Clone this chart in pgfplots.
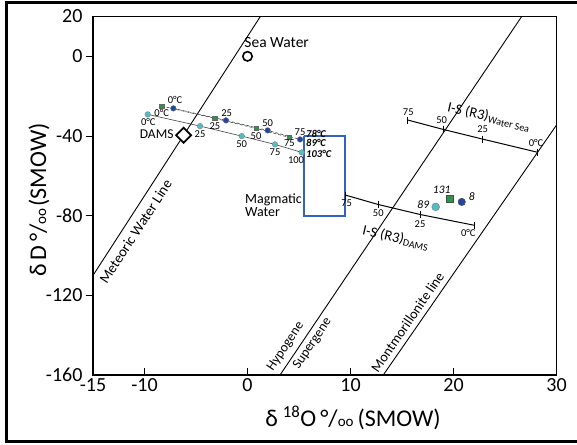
\documentclass[border=0pt]{standalone}
\usepackage{fontspec}
\setmainfont{Carlito}
\usepackage{pgfplots}
\pgfplotsset{compat=1.18}
\definecolor{cgreen}{RGB}{40,150,70}
\definecolor{cblue}{RGB}{35,70,160}
\definecolor{ccyan}{RGB}{80,190,200}
\definecolor{boxblue}{RGB}{50,100,190}
\newcommand{\fs}[1]{\fontsize{#1}{#1}\selectfont}
\newcommand{\permil}{°/{\fs{15}oo}}
\begin{document}
\begin{tikzpicture}
\useasboundingbox (0pt,0pt) rectangle (577pt,-444pt);
\draw[line width=3pt] (6.5pt,-2.8pt) rectangle (600pt,-441.7pt);
\begin{axis}[
  at={(93pt,-375pt)}, anchor=south west,
  scale only axis, width=463.5pt, height=358.5pt,
  xmin=-15, xmax=30, ymin=-160, ymax=20,
  xtick={-10,0,10,20}, ytick={-120,-80,-40,0},
  extra x ticks={-15,30}, extra y ticks={-160,20},
  extra x tick style={tick style={draw=none}},
  extra y tick style={tick style={draw=none}},
  xtick pos=bottom, ytick pos=left,
  xtick align=inside, ytick align=outside,
  major tick length=7pt,
  tick style={black, line width=1pt},
  axis line style={line width=1.2pt},
  ticklabel style={font=\fs{20}},
  /pgf/number format/assume math mode=true,
  xlabel={δ\hspace{5pt}\textsuperscript{18}O\hspace{4pt}\permil\hspace{4pt}(SMOW)},
  ylabel={δ\hspace{4pt}D\hspace{4pt}\permil\hspace{2pt}(SMOW)},
  xlabel style={at={(axis description cs:0.561,-0.12)}, anchor=center, font=\fs{24}},
  ylabel style={at={(axis description cs:-0.1165,0.488)}, anchor=center, font=\fs{24}},
  clip mode=individual,
]
% reference lines
\addplot[black, line width=0.9pt] coordinates {(-15,-110) (1.25,20)};
\addplot[black, line width=0.9pt] coordinates {(3.16,-160) (26.62,20)};
\addplot[black, line width=0.9pt] coordinates {(13.18,-160) (30,-34.5)};
% magmatic water box
\addplot[boxblue, line width=1.8pt, line join=miter] coordinates {(5.5,-40) (9.5,-40) (9.5,-80) (5.5,-80) (5.5,-40)};
% I-S (R3) scales
\addplot[black, line width=1pt, mark=|, mark size=3.5pt, mark options={solid}] coordinates {(9.53,-69.7) (12.70,-74.4) (16.75,-79.4) (21.99,-84.8)};
\addplot[black, line width=1pt, mark=|, mark size=3.5pt, mark options={solid}] coordinates {(15.58,-32.0) (19.0,-36.7) (22.86,-41.6) (28.11,-48.1)};
% fluid curves
\addplot[black!75, densely dashed, line width=0.6pt] coordinates {(-8.33,-24.97) (-3.16,-31.16) (0.83,-36.18) (4.06,-40.70)};
\addplot[black!75, densely dashed, line width=0.6pt] coordinates {(-7.20,-26.13) (-2.09,-32.16) (1.96,-37.19) (5.10,-41.71)};
\addplot[black!75, line width=0.6pt] coordinates {(-9.69,-29.15) (-4.61,-35.03) (-0.56,-40.05) (2.67,-44.22) (5.26,-48.24)};
\addplot[only marks, mark=square*, mark size=2.3pt, mark options={fill=cgreen, draw=black!60, line width=0.4pt}] coordinates {(-8.33,-24.97) (-3.16,-31.16) (0.83,-36.18) (4.06,-40.70)};
\addplot[only marks, mark=*, mark size=2.8pt, mark options={fill=cblue, draw=black!60, line width=0.4pt}] coordinates {(-7.20,-26.13) (-2.09,-32.16) (1.96,-37.19) (5.10,-41.71)};
\addplot[only marks, mark=*, mark size=2.8pt, mark options={fill=ccyan, draw=black!50, line width=0.4pt}] coordinates {(-9.69,-29.15) (-4.61,-35.03) (-0.56,-40.05) (2.67,-44.22) (5.26,-48.24)};
% samples
\addplot[only marks, mark=*, mark size=3.9pt, mark options={fill=ccyan, draw=black!50, line width=0.5pt}] coordinates {(18.27,-75.6)};
\addplot[only marks, mark=square*, mark size=3.4pt, mark options={fill=cgreen, draw=black!70, line width=0.5pt}] coordinates {(19.66,-71.7)};
\addplot[only marks, mark=*, mark size=3.7pt, mark options={fill=cblue, draw=black!70, line width=0.5pt}] coordinates {(20.80,-73.1)};
% sea water and DAMS
\addplot[only marks, mark=o, mark size=4.7pt, mark options={black, line width=1.6pt}] coordinates {(0,0)};
\addplot[only marks, mark=square*, mark size=5.3pt, mark options={draw=black, fill=white, line width=1.8pt, rotate=45}] coordinates {(-6.2,-39.6)};
% text
\node[font=\fs{15.5}] at (axis cs:2.83,6.9) {Sea Water};
\node[font=\fs{13.5}] at (axis cs:-8.82,-39.0) {DAMS};
\node[font=\fs{14}, align=left, anchor=west, inner sep=0pt] at (axis cs:-0.25,-74.9) {Magmatic\\[-1pt]Water};
\node[font=\fs{14.5}, rotate=57] at (axis cs:-10.87,-88) {Meteoric Water Line};
\node[font=\fs{13.5}, rotate=56] at (axis cs:3.72,-145.6) {Hypogene};
\node[font=\fs{13.5}, rotate=56] at (axis cs:6.31,-144.2) {Supergene};
\node[font=\fs{14}, rotate=55.5] at (axis cs:15.53,-133.4) {Montmorillonite line};
\node[font=\fs{14.5}, rotate=-13] at (axis cs:14.40,-91.1) {I-S (R3)\textsubscript{DAMS}};
\node[font=\fs{14.5}, rotate=-13] at (axis cs:23.45,-30.4) {I-S (R3)\textsubscript{Water Sea}};
% scale labels
\node[font=\fs{10.5}] at (axis cs:9.63,-73.9) {75};
\node[font=\fs{10.5}] at (axis cs:12.70,-78.9) {50};
\node[font=\fs{10.5}] at (axis cs:16.75,-84.4) {25};
\node[font=\fs{10.5}] at (axis cs:21.44,-88.9) {0°C};
\node[font=\fs{10.5}] at (axis cs:15.61,-27.8) {75};
\node[font=\fs{10.5}] at (axis cs:18.85,-32.0) {50};
\node[font=\fs{10.5}] at (axis cs:22.83,-36.7) {25};
\node[font=\fs{10.5}] at (axis cs:28.01,-43.7) {0°C};
% curve labels
\node[font=\fs{10.5}] at (axis cs:-7.04,-21.96) {0°C};
\node[font=\fs{10.5}] at (axis cs:-2.02,-28.6) {25};
\node[font=\fs{10.5}] at (axis cs:1.96,-33.7) {50};
\node[font=\fs{10.5}] at (axis cs:5.10,-38.2) {75};
\node[font=\fs{10.5}] at (axis cs:-8.33,-28.6) {0°C};
\node[font=\fs{10.5}] at (axis cs:-3.16,-34.9) {25};
\node[font=\fs{10.5}] at (axis cs:0.83,-39.9) {50};
\node[font=\fs{10.5}] at (axis cs:4.06,-43.7) {75};
\node[font=\fs{10.5}] at (axis cs:-9.63,-32.9) {0°C};
\node[font=\fs{10.5}] at (axis cs:-4.61,-39.2) {25};
\node[font=\fs{10.5}] at (axis cs:-0.56,-44.1) {50};
\node[font=\fs{10.5}] at (axis cs:2.67,-48.2) {75};
\node[font=\fs{10.5}] at (axis cs:4.71,-52.1) {100};
\node[font=\fs{10.5}\bfseries\itshape, anchor=west, inner sep=0pt] at (axis cs:5.68,-38.7) {78°C};
\node[font=\fs{10.5}\bfseries\itshape, anchor=west, inner sep=0pt] at (axis cs:5.68,-43.4) {89°C};
\node[font=\fs{10.5}\bfseries\itshape, anchor=west, inner sep=0pt] at (axis cs:5.68,-49.1) {103°C};
% sample labels
\node[font=\fs{11.5}\itshape] at (axis cs:18.85,-67.2) {131};
\node[font=\fs{11.5}\itshape] at (axis cs:17.07,-74.4) {89};
\node[font=\fs{11.5}\itshape] at (axis cs:21.77,-70.2) {8};
\end{axis}
\end{tikzpicture}
\end{document}
